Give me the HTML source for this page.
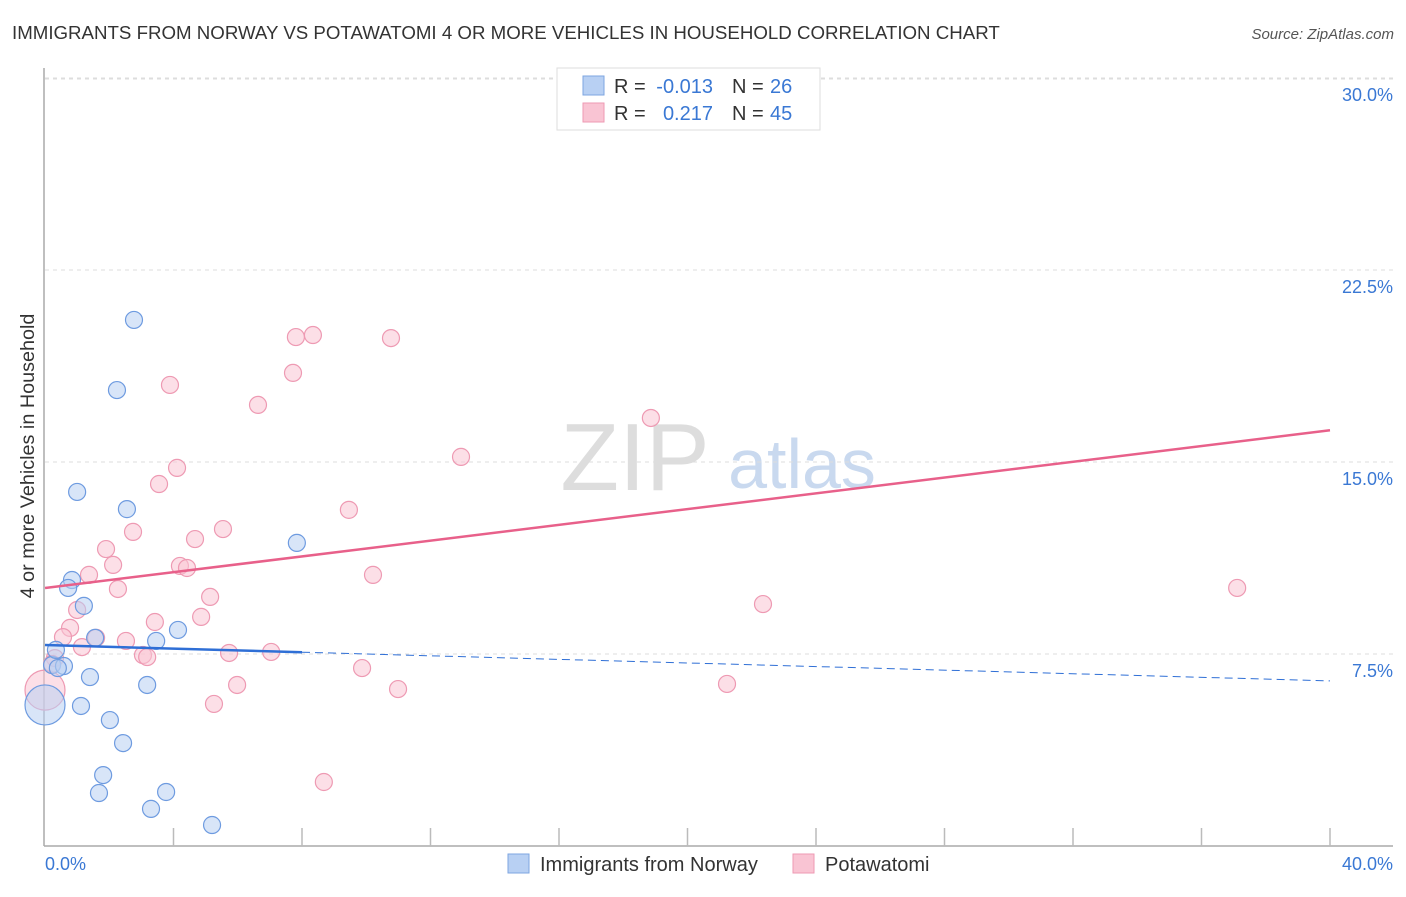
<!DOCTYPE html>
<html><head><meta charset="utf-8"><style>
body{margin:0;background:#fff;font-family:"Liberation Sans",sans-serif;}
svg text{font-family:"Liberation Sans",sans-serif;}
</style></head><body>
<svg id="chart" width="1406" height="892" viewBox="0 0 1406 892">
<text x="12" y="39" font-size="18.7" fill="#333">IMMIGRANTS FROM NORWAY VS POTAWATOMI 4 OR MORE VEHICLES IN HOUSEHOLD CORRELATION CHART</text>
<text x="1394" y="39" font-size="15" fill="#555" font-style="italic" text-anchor="end">Source: ZipAtlas.com</text>
<text x="0" y="0" transform="translate(34,456) rotate(-90)" font-size="19.8" fill="#333" text-anchor="middle">4 or more Vehicles in Household</text>
<g><text x="635" y="490" font-size="96" fill="#ddd" font-family="Liberation Serif" text-anchor="middle">ZIP</text><text x="802" y="488" font-size="70" fill="#c9d9ef" text-anchor="middle">atlas</text></g>
<g id="grid"></g><g id="axes"></g><g id="marks"></g><g id="lines"></g>
<g>
<rect x="557" y="68" width="263" height="62" fill="#fff" stroke="#ddd"/>
<rect x="583" y="76" width="21" height="19" fill="#b8d0f3" stroke="#7ea6e0"/>
<rect x="583" y="103" width="21" height="19" fill="#f9c4d3" stroke="#ee9ab3"/>
<text x="614" y="93" font-size="20" fill="#333">R =</text><text x="713" y="93" font-size="20" fill="#3a78d4" text-anchor="end">-0.013</text>
<text x="732" y="93" font-size="20" fill="#333">N =</text><text x="770" y="93" font-size="20" fill="#3a78d4">26</text>
<text x="614" y="120" font-size="20" fill="#333">R =</text><text x="713" y="120" font-size="20" fill="#3a78d4" text-anchor="end">0.217</text>
<text x="732" y="120" font-size="20" fill="#333">N =</text><text x="770" y="120" font-size="20" fill="#3a78d4">45</text>
</g>
<g>
<rect x="508" y="854" width="21" height="19" fill="#b8d0f3" stroke="#7ea6e0"/><text x="540" y="871" font-size="20" fill="#333">Immigrants from Norway</text>
<rect x="793" y="854" width="21" height="19" fill="#f9c4d3" stroke="#ee9ab3"/><text x="825" y="871" font-size="20" fill="#333">Potawatomi</text>
</g>
</svg>
<script>
const xTicks=[0,4,8,12,16,20,24,28,32,36,40];
const yTicks=[7.5,15,22.5,30];
const yTickLabels=["7.5%","15.0%","22.5%","30.0%"];
const norwayX=[2.77,2.24,1.00,2.55,7.84,0.84,0.72,1.21,1.56,3.46,4.14,0.22,0.59,0.40,1.40,3.18,1.12,2.02,2.43,1.81,1.68,3.77,3.30,5.20,0,0.34];
const norwayY=[20.55,17.81,13.83,13.16,11.84,10.39,10.08,9.38,8.13,8.01,8.44,7.07,7.03,6.95,6.60,6.29,5.47,4.92,4.02,2.77,2.07,2.11,1.45,0.82,5.51,7.66];
const potX=[3.89,7.81,8.34,10.77,7.72,6.63,18.86,12.95,4.11,3.55,9.46,5.54,2.74,4.67,1.90,2.12,4.20,4.42,1.37,10.21,2.27,5.14,1.00,4.86,3.42,0.78,0.56,2.52,1.59,1.15,7.04,3.05,3.18,5.73,0.31,9.87,5.98,10.99,21.23,5.26,8.68,22.35,37.11,0,0.22];
const potY=[18.01,19.88,19.96,19.84,18.48,17.23,16.72,15.20,14.77,14.14,13.13,12.38,12.27,11.99,11.60,10.98,10.94,10.86,10.59,10.59,10.04,9.73,9.22,8.95,8.75,8.52,8.16,8.01,8.13,7.77,7.58,7.46,7.38,7.54,7.34,6.95,6.29,6.13,6.33,5.55,2.50,9.45,10.08,6.09,7.11];
const norwayTrend=[7.85,-0.035];
const potTrend=[10.08,0.154];
const NS="http://www.w3.org/2000/svg";
const X=v=>45+v*32.125, Y=v=>846-v*25.6;
function mk(t,a,p){const e=document.createElementNS(NS,t);for(const k in a)e.setAttribute(k,a[k]);p.appendChild(e);return e;}
const grid=document.getElementById('grid'),axes=document.getElementById('axes'),marks=document.getElementById('marks'),lines=document.getElementById('lines');
yTicks.forEach((t,i)=>{
 const l=mk('line',{x1:45,x2:1393,y1:Y(t),y2:Y(t),stroke:'#ddd','stroke-dasharray':'4,4'},grid);
 
 
 const tx=mk('text',{x:1393,y:Y(t)+23,'font-size':18,fill:'#3a78d4','text-anchor':'end'},axes);
 tx.textContent=yTickLabels[i];
 
 
});
const topGrid=mk('line',{x1:45,x2:1393,y1:79,y2:79,stroke:'#ddd','stroke-dasharray':'4,4'},grid);


const ya=mk('line',{x1:44,x2:44,y1:68,y2:846,stroke:'#aaa','stroke-width':1.5},axes);


const xa=mk('line',{x1:44,x2:1393,y1:846,y2:846,stroke:'#aaa','stroke-width':1.5},axes);


xTicks.forEach(t=>{
 if(t===0)return;
 const l=mk('line',{x1:X(t),x2:X(t),y1:828,y2:846,stroke:'#bbb','stroke-width':1.5},axes);
 
 
});
[[0,'0.0%','start',45],[40,'40.0%','end',1393]].forEach(d=>{
 const t=mk('text',{x:d[3],y:870,'font-size':18,fill:'#3a78d4','text-anchor':d[2]},axes);
 t.textContent=d[1];
 
 
});
function pts(xs,ys,fill,stroke,name){xs.forEach((x,i)=>{
 const big=(x===0);
 const c=mk('circle',{cx:X(x),cy:Y(ys[i]),r:big?20:8.5,fill:fill,'fill-opacity':0.55,stroke:stroke,'stroke-width':1.2},marks);
 
 
});}
pts(potX,potY,'#f9c4d3','#ee9ab3','potawatomi-point');
pts(norwayX,norwayY,'#b8d0f3','#6e9be0','norway-point');
const pl=mk('line',{x1:X(0),y1:Y(potTrend[0]),x2:X(40),y2:Y(potTrend[0]+potTrend[1]*40),stroke:'#e8608a','stroke-width':2.5},lines);


const nl=mk('line',{x1:X(0),y1:Y(norwayTrend[0]),x2:X(8),y2:Y(norwayTrend[0]+norwayTrend[1]*8),stroke:'#2f6fd6','stroke-width':2.5},lines);


const nd=mk('line',{x1:X(8),y1:Y(norwayTrend[0]+norwayTrend[1]*8),x2:X(40),y2:Y(norwayTrend[0]+norwayTrend[1]*40),stroke:'#2f6fd6','stroke-width':1,'stroke-dasharray':'8,5'},lines);


</script>
</body></html>
